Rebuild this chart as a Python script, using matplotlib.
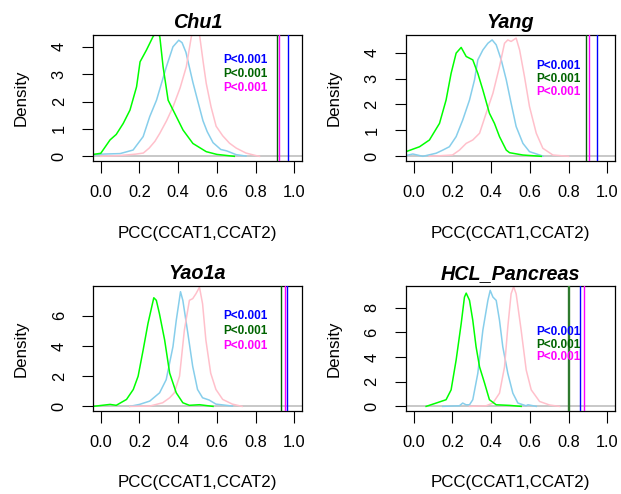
import matplotlib
matplotlib.use("Agg")
import matplotlib.pyplot as plt

plt.rcParams['font.family'] = ['Liberation Sans', 'DejaVu Sans']

titles = ["Chu1", "Yang", "Yao1a", "HCL_Pancreas"]

# density curves of the null PCC distributions
chu1_green_x = [-0.04, 0.0, 0.048, 0.08, 0.116, 0.151, 0.185, 0.203, 0.236, 0.27, 0.29, 0.305,
                0.322, 0.348, 0.382, 0.425, 0.476, 0.545, 0.6, 0.69]
chu1_green_y = [0.07, 0.11, 0.6, 0.8, 1.2, 1.69, 2.54, 3.45, 3.88, 4.37, 4.55, 4.37,
                3.27, 2.05, 1.57, 0.96, 0.47, 0.17, 0.07, 0.0]
chu1_blue_x = [-0.04, 0.0, 0.1, 0.167, 0.219, 0.253, 0.288, 0.339, 0.373, 0.403, 0.42, 0.44,
               0.476, 0.5, 0.528, 0.55, 0.58, 0.62, 0.65, 0.7, 0.75]
chu1_blue_y = [0.05, 0.08, 0.1, 0.23, 0.72, 1.45, 2.05, 3.27, 4.0, 4.24, 4.15, 3.8,
               2.7, 2.05, 1.3, 0.9, 0.5, 0.25, 0.2, 0.06, 0.01]
chu1_pink_x = [0.0, 0.1, 0.18, 0.22, 0.25, 0.28, 0.305, 0.34, 0.373, 0.41, 0.442, 0.468, 0.49,
               0.51, 0.53, 0.545, 0.57, 0.596, 0.63, 0.665, 0.7, 0.75, 0.8, 0.82]
chu1_pink_y = [0.0, 0.03, 0.08, 0.12, 0.3, 0.55, 0.84, 1.3, 1.8, 2.5, 3.27, 4.37, 4.75,
               4.45, 3.4, 2.66, 1.8, 1.1, 0.75, 0.48, 0.3, 0.12, 0.03, 0.0]

yang_green_x = [-0.04, 0.03, 0.081, 0.133, 0.167, 0.193, 0.219, 0.245, 0.271, 0.305, 0.331,
                0.357, 0.391, 0.417, 0.443, 0.478, 0.495, 0.564, 0.659]
yang_green_y = [0.18, 0.37, 0.63, 1.27, 2.17, 3.2, 3.98, 4.2, 3.85, 3.72, 3.2,
                2.56, 1.66, 1.27, 0.76, 0.24, 0.14, 0.05, 0.0]
yang_blue_x = [-0.04, -0.005, 0.047, 0.116, 0.15, 0.184, 0.219, 0.253, 0.288, 0.314, 0.331,
               0.357, 0.383, 0.405, 0.426, 0.452, 0.478, 0.503, 0.529, 0.564, 0.598, 0.667]
yang_blue_y = [0.03, 0.09, 0.0, 0.12, 0.24, 0.37, 0.76, 1.4, 2.17, 2.95, 3.72,
               4.1, 4.36, 4.49, 4.3, 3.72, 2.95, 2.05, 1.15, 0.5, 0.18, 0.01]
yang_pink_x = [0.08, 0.2, 0.236, 0.271, 0.305, 0.34, 0.374, 0.409, 0.443, 0.469, 0.486, 0.503,
               0.529, 0.547, 0.572, 0.598, 0.633, 0.667, 0.719, 0.8]
yang_pink_y = [0.0, 0.05, 0.24, 0.5, 0.63, 0.89, 1.66, 2.43, 3.46, 4.36, 4.49, 4.43,
               4.56, 4.1, 3.08, 1.92, 0.89, 0.31, 0.05, 0.0]

yao_green_x = [-0.04, 0.048, 0.08, 0.133, 0.168, 0.193, 0.219, 0.244, 0.274, 0.287, 0.303,
               0.33, 0.356, 0.39, 0.424, 0.458, 0.51, 0.58]
yao_green_y = [0.0, 0.13, 0.07, 0.46, 1.12, 2.0, 3.74, 5.5, 7.2, 7.03, 6.15,
               4.4, 2.2, 0.9, 0.24, 0.07, 0.11, 0.0]
yao_blue_x = [0.15, 0.2, 0.253, 0.304, 0.338, 0.373, 0.39, 0.412, 0.424, 0.45, 0.475, 0.5,
              0.526, 0.56, 0.595, 0.68]
yao_blue_y = [0.0, 0.13, 0.35, 0.9, 1.77, 3.96, 5.7, 7.6, 7.03, 4.84, 2.65, 1.12,
              0.57, 0.42, 0.15, 0.02]
yao_pink_x = [0.15, 0.253, 0.32, 0.356, 0.38, 0.407, 0.432, 0.458, 0.475, 0.492, 0.51, 0.526,
              0.543, 0.568, 0.595, 0.63, 0.68, 0.73]
yao_pink_y = [0.0, 0.02, 0.24, 0.57, 0.9, 2.0, 5.06, 7.03, 7.14, 7.47, 7.9, 6.8,
              4.4, 2.2, 1.12, 0.46, 0.15, 0.0]

hcl_green_x = [0.064, 0.116, 0.167, 0.193, 0.219, 0.245, 0.262, 0.271, 0.288, 0.305, 0.322,
               0.34, 0.366, 0.391, 0.426, 0.495, 0.555]
hcl_green_y = [0.0, 0.27, 0.54, 1.34, 3.76, 6.7, 8.86, 9.18, 8.6, 6.98, 4.83,
               3.2, 1.88, 0.54, 0.13, 0.08, 0.0]
hcl_blue_x = [0.15, 0.236, 0.253, 0.27, 0.288, 0.305, 0.331, 0.357, 0.383, 0.395, 0.409, 0.426,
              0.443, 0.46, 0.486, 0.512, 0.538, 0.58, 0.59, 0.633]
hcl_blue_y = [0.0, 0.05, 0.27, 0.13, 0.13, 0.54, 2.68, 6.17, 8.59, 9.4, 8.86, 8.59,
              6.98, 4.83, 2.68, 1.07, 0.27, 0.05, 0.13, 0.0]
hcl_pink_x = [0.288, 0.374, 0.409, 0.443, 0.469, 0.486, 0.503, 0.516, 0.529, 0.555, 0.581,
              0.607, 0.65, 0.702, 0.753]
hcl_pink_y = [0.0, 0.05, 0.27, 1.07, 3.2, 6.44, 9.13, 9.7, 9.13, 6.17, 2.95,
              1.34, 0.4, 0.11, 0.0]

curves = [
    [(chu1_blue_x, chu1_blue_y), (chu1_pink_x, chu1_pink_y), (chu1_green_x, chu1_green_y)],
    [(yang_blue_x, yang_blue_y), (yang_pink_x, yang_pink_y), (yang_green_x, yang_green_y)],
    [(yao_blue_x, yao_blue_y), (yao_pink_x, yao_pink_y), (yao_green_x, yao_green_y)],
    [(hcl_blue_x, hcl_blue_y), (hcl_pink_x, hcl_pink_y), (hcl_green_x, hcl_green_y)],
]
curve_cols = ["skyblue", "pink", "#00ff00"]

# observed PCC (vertical lines)
obs_green = [0.908, 0.891, 0.930, 0.800]
obs_magenta = [0.922, 0.905, 0.953, 0.879]
obs_blue = [0.965, 0.948, 0.962, 0.858]
pval_text = "P<0.001"
ptext_y = [[3.5, 3.0, 2.5], [3.5, 3.0, 2.5], [6.0, 5.0, 4.0], [6.0, 5.0, 4.0]]

dens_max = [4.26, 4.5, 7.67, 9.38]
yticks = [[0, 1, 2, 3, 4], [0, 1, 2, 3, 4], [0, 2, 4, 6], [0, 2, 4, 6, 8]]
xticks = [0.0, 0.2, 0.4, 0.6, 0.8, 1.0]

rects = [[0.1498, 0.6741, 0.3366, 0.2551], [0.6538, 0.6741, 0.3366, 0.2551],
         [0.1498, 0.1680, 0.3366, 0.2530], [0.6538, 0.1680, 0.3366, 0.2530]]

fig = plt.figure(figsize=(6.21, 4.94), dpi=100)
for i in range(4):
    ax = fig.add_axes(rects[i])
    ax.axhline(0, color="#c4c4c4", lw=1.3, zorder=1)
    for (xs, ys), c in zip(curves[i], curve_cols):
        ax.plot(xs, ys, color=c, lw=1.1, zorder=2)
    # last panel has a heavier green line
    gw = 1.7 if i == 3 else 1.0
    ax.axvline(obs_green[i], color="#2e7a2e" if i == 3 else "darkgreen", lw=gw, zorder=3)
    ax.axvline(obs_magenta[i], color="magenta", lw=1.0, zorder=3)
    ax.axvline(obs_blue[i], color="blue", lw=1.0, zorder=3)
    for yy, c in zip(ptext_y[i], ["blue", "darkgreen", "magenta"]):
        ax.text(0.745, yy, pval_text, color=c, fontsize=8.5, fontweight="bold",
                ha="center", va="center", zorder=4)
    m = dens_max[i]
    ax.set_xlim(-0.04, 1.04)
    ax.set_ylim(-0.04 * m, 1.04 * m)
    ax.set_xticks(xticks)
    ax.set_xticklabels(["{:.1f}".format(v) for v in xticks])
    ax.set_yticks(yticks[i])
    ax.tick_params(axis="both", direction="out", labelsize=11.8, width=0.8)
    ax.tick_params(axis="x", length=8.6, pad=9)
    ax.tick_params(axis="y", length=8, pad=11, labelrotation=90)
    for lab in ax.get_yticklabels():
        lab.set_va("center")
    for sp in ax.spines.values():
        sp.set_linewidth(0.9)
    ax.set_title(titles[i], fontsize=14.2, fontweight="bold", fontstyle="italic", pad=5)
    ax.text(0.5, -72 / 126, "PCC(CCAT1,CCAT2)", transform=ax.transAxes,
            ha="center", va="center", fontsize=12.2)
    ax.text(-72 / 209, 0.5, "Density", transform=ax.transAxes, rotation=90,
            ha="center", va="center", fontsize=12.2)

fig.savefig("out.png", dpi=100)
